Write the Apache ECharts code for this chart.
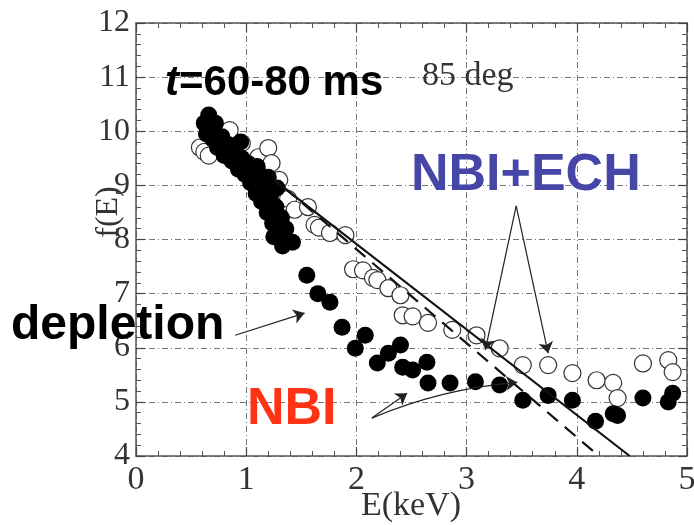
<!DOCTYPE html>
<html>
<head>
<meta charset="utf-8">
<script src="https://cdn.jsdelivr.net/npm/echarts@6/dist/echarts.min.js"></script>
<style>html,body{margin:0;padding:0;background:#fff}#c{width:694px;height:525px}</style>
</head>
<body>
<div id="c"></div>
<script>
// NBI (filled circles)
const nbiE = [0.62,0.64,0.66,0.68,0.70,0.72,0.74,0.78,0.80,0.84,0.87,0.90,0.93,0.96,0.99,1.02,1.04,1.07,1.09,1.12,1.14,1.17,1.19,1.22,1.24,1.27,1.29,1.32,1.33,1.42,1.28,1.20,1.10,0.95,1.36,1.25,
  1.55,1.65,1.76,1.87,1.99,2.08,2.19,2.29,2.40,2.42,2.51,2.64,2.65,2.85,3.08,3.30,3.51,3.74,3.96,4.17,4.33,4.37,4.60,4.83,4.87];
const nbiF = [10.15,9.95,10.30,10.05,9.85,10.15,9.70,9.90,9.55,9.75,9.45,9.60,9.30,9.50,9.20,9.40,9.05,9.25,8.85,9.10,8.70,8.95,8.50,8.80,8.30,8.60,8.10,8.40,7.88,7.95,8.95,9.15,9.35,9.80,8.20,8.05,
  7.34,7.00,6.84,6.38,5.99,6.23,5.72,5.90,6.05,5.64,5.59,5.73,5.35,5.35,5.37,5.31,5.03,5.12,5.03,4.64,4.78,4.75,5.07,5.00,5.16];
// NBI+ECH (open circles)
const echE = [0.58,0.62,0.66,0.85,0.96,1.11,1.20,1.23,1.30,1.32,1.38,1.44,1.56,1.62,1.66,1.76,1.90,1.97,2.06,2.15,2.19,2.29,2.40,2.42,2.51,2.65,2.87,3.09,3.30,3.51,3.74,3.96,4.18,4.33,4.37,4.60,4.83,4.87];
const echF = [9.70,9.62,9.55,10.02,9.78,9.52,9.69,9.41,9.10,8.67,8.75,8.55,8.60,8.27,8.22,8.12,8.08,7.45,7.43,7.29,7.25,7.10,6.97,6.60,6.58,6.46,6.33,6.23,5.99,5.68,5.68,5.53,5.40,5.35,5.07,5.71,5.77,5.55];
// fit lines
const solidE = [1.25, 4.48];
const solidF = [9.10, 4.00];
const dashE = [1.35, 4.20];
const dashF = [8.95, 4.00];
// annotation arrows [x1,y1,x2,y2]
const arrowDepl = [0.90, 6.23, 1.53, 6.64];
const arrowEch1 = [3.45, 8.62, 3.17, 5.96];
const arrowEch2 = [3.45, 8.62, 3.74, 5.90];
const arrowNbi1 = [2.14, 4.70, 2.46, 5.16];
const arrowNbi2 = [2.14, 4.70, 3.46, 5.36];
const xTicks = [0,1,2,3,4,5];
const yTicks = [4,5,6,7,8,9,10,11,12];

const zip = (a,b) => a.map((v,i)=>[v,b[i]]);
const arr = a => ({coords: [[a[0],a[1]],[a[2],a[3]]]});

const chart = echarts.init(document.getElementById('c'), null, {renderer:'canvas'});
const serif = '"Liberation Serif","DejaVu Serif",serif';
const sans = '"Liberation Sans",Arial,sans-serif';
const gridLine = {show:true, lineStyle:{color:'#777', width:1, type:[6,3,1,3]}};
const axBase = {
  min: 0, max: 5, interval: 1,
  axisLine:{show:true, onZero:false, lineStyle:{color:'#555', width:1.5}},
  axisTick:{show:true, inside:true, length:9, lineStyle:{color:'#444', width:1.2}},
  minorTick:{show:true, splitNumber:5, length:5, lineStyle:{color:'#555'}},
};
chart.setOption({
  animation:false,
  backgroundColor:'#fff',
  grid:{left:136, right:7, top:23, bottom:69, containLabel:false, outerBoundsMode:'none'},
  xAxis:[
    Object.assign({}, axBase, {type:'value', position:'bottom',
      axisLabel:{fontFamily:serif, fontSize:34, color:'#333', margin:7, formatter: v => xTicks.includes(v) ? String(v) : ''},
      splitLine: gridLine}),
    Object.assign({}, axBase, {type:'value', position:'top', axisLabel:{show:false}, splitLine:{show:false}})
  ],
  yAxis:[
    Object.assign({}, axBase, {type:'value', min:4, max:12, interval:1, position:'left',
      axisLabel:{fontFamily:serif, fontSize:32, color:'#333', margin:6, formatter: v => yTicks.includes(v) ? String(v) : ''},
      splitLine: gridLine}),
    Object.assign({}, axBase, {type:'value', min:4, max:12, interval:1, position:'right', axisLabel:{show:false}, splitLine:{show:false}})
  ],
  series:[
    {type:'scatter', name:'NBI+ECH', data: zip(echE, echF), symbol:'circle', symbolSize:17,
      itemStyle:{color:'#fff', borderColor:'#333', borderWidth:1.2, opacity:1}, z:2},
    {type:'scatter', name:'NBI', data: zip(nbiE, nbiF), symbol:'circle', symbolSize:17,
      itemStyle:{color:'#000', opacity:1}, z:3},
    {type:'line', data: zip(solidE, solidF), symbol:'none', lineStyle:{color:'#111', width:2.2}, z:4},
    {type:'line', data: zip(dashE, dashF), symbol:'none', lineStyle:{color:'#111', width:2.2, type:[14,9]}, z:4},
    {type:'lines', coordinateSystem:'cartesian2d', symbol:['none','arrow'], symbolSize:[0,11],
      lineStyle:{color:'#222', width:1.2, curveness:0, opacity:1}, z:5,
      data:[arr(arrowDepl), arr(arrowEch1), arr(arrowEch2), arr(arrowNbi1)]},
    {type:'lines', coordinateSystem:'cartesian2d', symbol:['none','arrow'], symbolSize:[0,11],
      lineStyle:{color:'#222', width:1.2, curveness:0.08, opacity:1}, z:5,
      data:[arr(arrowNbi2)]}
  ],
  graphic:[
    {type:'text', x:411, y:506, z:50, style:{text:'E(keV)', font:'34px '+serif, fill:'#333', textAlign:'center', textVerticalAlign:'middle'}},
    {type:'text', x:109, y:212, rotation:Math.PI/2, z:50, style:{text:'f(E)', font:'32px '+serif, fill:'#333', textAlign:'center', textVerticalAlign:'middle'}},
    {type:'text', left:165, top:62, z:100, style:{text:'t', font:'italic bold 42px '+sans, fill:'#000'}},
    {type:'text', left:179, top:62, z:100, style:{text:'=60-80 ms', font:'bold 42px '+sans, fill:'#000'}},
    {type:'text', left:422, top:59, z:100, style:{text:'85 deg', font:'34px '+serif, fill:'#333'}},
    {type:'text', left:411, top:150, z:100, style:{text:'NBI+ECH', font:'bold 52px '+sans, fill:'#4646a6'}},
    {type:'text', left:11, top:302, z:100, style:{text:'depletion', font:'bold 48px '+sans, fill:'#000'}},
    {type:'text', left:247, top:384, z:100, style:{text:'NBI', font:'bold 52px '+sans, fill:'#fe3214'}}
  ]
});
</script>
</body>
</html>
